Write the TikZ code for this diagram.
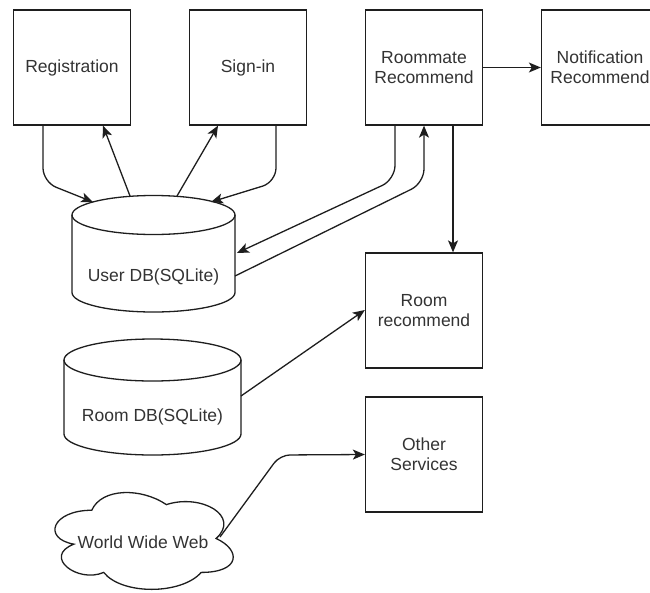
\documentclass[tikz,border=0pt]{standalone}
\usepackage{fontspec}
\setmainfont{Liberation Sans}
\usetikzlibrary{arrows.meta}
\definecolor{ln}{HTML}{1E1E1E}
\definecolor{tx}{HTML}{333333}
\tikzset{
  box/.style={draw=ln, line width=1.3pt, minimum width=117pt, minimum height=115pt, inner sep=0pt,
    align=center, text=tx, font=\fontsize{17.5pt}{20pt}\selectfont},
  lbl/.style={inner sep=0pt, align=center, text=tx, font=\fontsize{17.5pt}{20pt}\selectfont},
  shp/.style={draw=ln, line width=1.3pt},
  conn/.style={draw=ln, line width=1.3pt, -{Stealth[length=12pt,width=10pt,inset=3pt]}},
}
\begin{document}
\begin{tikzpicture}[x=1pt,y=-1pt]
\useasboundingbox (0,0) rectangle (650,592);
\clip (0,0) rectangle (650,592);

% boxes
\node[box] (reg) at (72,67.5) {Registration};
\node[box] (sign) at (248,67.5) {Sign-in};
\node[box] (rm) at (424,67.5) {Roommate\\Recommend};
\node[box] (notif) at (600,67.5) {Notification\\Recommend};
\node[box] (room) at (424,310.5) {Room\\recommend};
\node[box] (other) at (424,454.5) {Other\\Services};

% User DB cylinder
\draw[shp, fill=white] (72,215) -- (72,292.5)
  .. controls (72,303.3) and (108.5,312) .. (153.5,312)
  .. controls (198.5,312) and (235,303.3) .. (235,292.5) -- (235,215);
\draw[shp] (153.5,215) ellipse [x radius=81.5pt, y radius=19.5pt];
\node[lbl] (udb) at (153.5,277) {User DB(SQLite)};

% Room DB cylinder
\draw[shp, fill=white] (64,360) -- (64,434)
  .. controls (64,445.6) and (103.6,455) .. (152.5,455)
  .. controls (201.4,455) and (241,445.6) .. (241,434) -- (241,360);
\draw[shp] (152.5,360) ellipse [x radius=88.5pt, y radius=21pt];
\node[lbl] (rdb) at (152.5,417) {Room DB(SQLite)};

% cloud
\begin{scope}[shift={(42,482)}, x=199pt, y=-113pt]
\draw[shp] (0.25,0.25)
  .. controls (0.05,0.25) and (0,0.5) .. (0.16,0.55)
  .. controls (0,0.66) and (0.18,0.9) .. (0.31,0.8)
  .. controls (0.4,1) and (0.7,1) .. (0.8,0.8)
  .. controls (1,0.8) and (1,0.6) .. (0.875,0.5)
  .. controls (1,0.3) and (0.8,0.1) .. (0.625,0.2)
  .. controls (0.5,0.05) and (0.3,0.05) .. (0.25,0.25) -- cycle;
\end{scope}
\node[lbl] (web) at (143,542) {World Wide Web};

% attachment points
\coordinate (udbA) at (93,202);
\coordinate (udbB) at (130,196);
\coordinate (udbC) at (177,196);
\coordinate (udbD) at (211,202);
\coordinate (udbE) at (237,253);
\coordinate (udbF) at (235,276);
\coordinate (rdbR) at (241,396);
\coordinate (webR) at (220,537);

% connectors
\draw[conn, rounded corners=14pt] ([xshift=-29pt]reg.south) -- (43,182) -- (udbA);
\draw[conn] (udbB) -- ([xshift=31pt]reg.south);
\draw[conn] (udbC) -- ([xshift=-30pt]sign.south);
\draw[conn, rounded corners=14pt] ([xshift=28pt]sign.south) -- (276,182) -- (udbD);
\draw[conn, rounded corners=14pt] ([xshift=-29pt]rm.south) -- (395,179.5) -- (udbE);
\draw[conn, rounded corners=14pt] (udbF) -- (424,183) -- (rm.south);
\draw[conn] ([xshift=29pt]rm.south) -- ([xshift=29pt]room.north);
\draw[conn] (rm.east) -- (notif.west);
\draw[conn] (rdbR) -- ([yshift=0.5pt]room.west);
\draw[conn, rounded corners=10pt] (webR) -- (280,455) -- (other.west);
\end{tikzpicture}
\end{document}
